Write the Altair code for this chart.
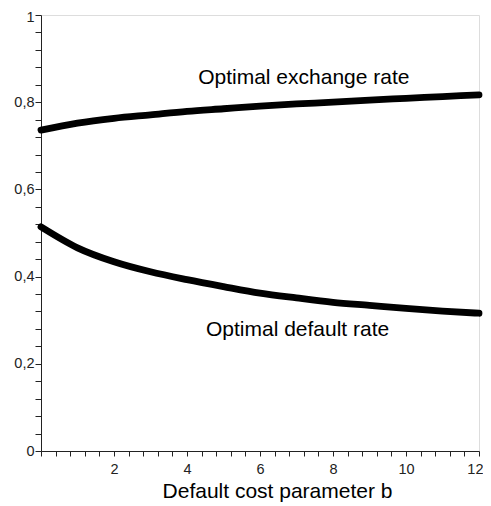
import altair as alt
import pandas as pd

b_values = [0, 1, 2, 3, 4, 5, 6, 7, 8, 9, 10, 11, 12]
exchange_rate = [0.736, 0.752, 0.763, 0.771, 0.779, 0.785, 0.791, 0.796, 0.800, 0.805, 0.809, 0.813, 0.817]
default_rate = [0.514, 0.466, 0.434, 0.411, 0.393, 0.377, 0.362, 0.351, 0.341, 0.334, 0.327, 0.321, 0.316]

labels_text = ["Optimal exchange rate", "Optimal default rate"]
labels_x = [7.2, 7.03]
labels_y = [0.856, 0.277]

x_ticks = [round(i * 0.4, 2) for i in range(31)]
y_ticks = [round(i * 0.04, 2) for i in range(26)]

rows = []
for b, v in zip(b_values, exchange_rate):
    rows.append({"b": b, "value": v, "series": "exchange"})
for b, v in zip(b_values, default_rate):
    rows.append({"b": b, "value": v, "series": "default"})
df = pd.DataFrame(rows)
lab = pd.DataFrame({"text": labels_text, "b": labels_x, "value": labels_y})

font = "Liberation Sans"

x_scale = alt.Scale(domain=[0, 12], nice=False, zero=False)
y_scale = alt.Scale(domain=[0, 1], nice=False, zero=False)

x_axis = alt.Axis(
    values=x_ticks,
    tickCount=len(x_ticks),
    labelExpr="datum.value > 0 && abs(datum.value/2 - round(datum.value/2)) < 0.001 ? format(datum.value, 'd') : ''",
    labelAlign=alt.ExprRef(expr="datum.value >= 11.9 ? 'right' : 'center'"),
    labelOffset=alt.ExprRef(expr="datum.value >= 11.9 ? 4 : 0"),
    grid=False,
    tickSize=5,
    labelPadding=6,
    labelFlush=False,
    labelOverlap=False,
    labelFontSize=14.5,
    labelFont=font,
    labelColor="#222",
    tickColor="#222",
    domainColor="#222",
    title="Default cost parameter b",
    titleFont=font,
    titleFontSize=21,
    titleFontWeight="normal",
    titleColor="black",
    titleX=236,
    titleY=46,
    titleAnchor="middle",
    titleAlign="center",
    titleBaseline="alphabetic",
)
y_axis = alt.Axis(
    values=y_ticks,
    tickCount=len(y_ticks),
    labelExpr="abs(datum.value*5 - round(datum.value*5)) < 0.001 ? replace(format(datum.value, '.1~f'), '.', ',') : ''",
    labelOffset=alt.ExprRef(expr="datum.value >= 0.99 ? 2 : 0"),
    grid=False,
    tickSize=6,
    labelPadding=1,
    labelFlush=False,
    labelOverlap=False,
    labelFontSize=14.5,
    labelFont=font,
    labelColor="#222",
    tickColor="#222",
    domainColor="#222",
    title="",
)

x_enc = alt.X("b:Q", scale=x_scale, axis=x_axis)
y_enc = alt.Y("value:Q", scale=y_scale, axis=y_axis)

lines = alt.Chart(df).mark_line(
    color="black", strokeWidth=6.8, strokeCap="round", strokeJoin="round", interpolate="monotone"
).encode(x=x_enc, y=y_enc, detail="series:N")
texts = alt.Chart(lab).mark_text(font=font, fontSize=21, color="black", align="center", baseline="middle").encode(
    x=x_enc, y=y_enc, text="text:N"
)

chart = (
    alt.layer(lines, texts)
    .properties(
        width=438,
        height=436,
        autosize=alt.AutoSizeParams(type="none"),
        padding={"left": 33, "top": 7, "right": 4, "bottom": 51},
    )
    .configure_view(stroke="transparent")
    .configure(background="white")
)

chart.save("out.html", embed_options={"renderer": "svg", "actions": False})
